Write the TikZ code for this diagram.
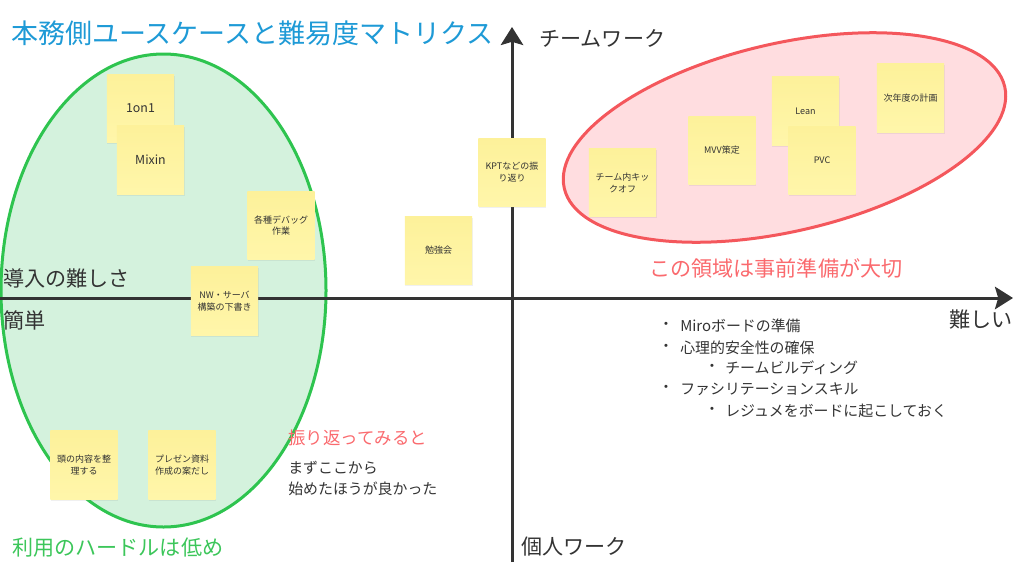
\documentclass[tikz,border=0pt]{standalone}
\usepackage{fontspec}
\setmainfont{Noto Sans CJK JP}
\usetikzlibrary{arrows.meta,shadows}
\definecolor{titleblue}{HTML}{1E9AD6}
\definecolor{axisgray}{HTML}{333333}
\definecolor{greenline}{HTML}{2EC44F}
\definecolor{greenfill}{HTML}{D4F2DD}
\definecolor{greentext}{HTML}{3CC65A}
\definecolor{redline}{HTML}{F4575C}
\definecolor{redfill}{HTML}{FFDDE0}
\definecolor{redtext}{HTML}{FA6A6E}
\definecolor{stickytop}{HTML}{FDF19A}
\definecolor{stickybot}{HTML}{FFF6AA}
\newcommand{\sw}{1.68cm}
\newcommand{\sh}{1.72cm}
\newcommand{\sticky}[4]{\node[sticky] (#1) at (#2,#3) {#4};}
\newcommand{\bigsticky}[4]{\node[sticky,font=\fontsize{8.8}{10}\selectfont] (#1) at (#2,#3) {#4};}
\newcommand{\listitem}[5]{\node[listtext,anchor=center] (#1dot) at (#2,#4) {・}; \node[listtext] (#1) at (#3,#4) {#5};}
\tikzset{
  sticky/.style={rectangle, minimum width=\sw, minimum height=\sh, inner sep=0pt, align=center,
    top color=stickytop, bottom color=stickybot, draw=none, text=axisgray,
    font=\fontsize{6.4}{8.5}\selectfont,
    drop shadow={opacity=0.12, shadow xshift=0.4pt, shadow yshift=-1pt}},
  axis/.style={axisgray, line width=0.075cm, -{Stealth[length=0.45cm,width=0.56cm,inset=0.08cm]}},
  label/.style={anchor=west, inner sep=0pt, text=axisgray, font=\fontsize{15}{18}\selectfont},
  listtext/.style={anchor=west, inner sep=0pt, text=axisgray, font=\fontsize{10.6}{13}\selectfont}
}
\begin{document}
\begin{tikzpicture}[x=0.025cm,y=-0.025cm]
\useasboundingbox (0,0) rectangle (1024,580);
\filldraw[fill=greenfill, draw=greenline, line width=0.075cm] (163.5,290.5) ellipse [x radius=162.5, y radius=236.5];
\filldraw[fill=redfill, draw=redline, line width=0.075cm, rotate around={13:(784.5,137.5)}] (784.5,137.5) ellipse [x radius=226, y radius=94];
\coordinate (xstart) at (0,298);
\coordinate (xend) at (1013,298);
\coordinate (ystart) at (512,562);
\coordinate (yend) at (512,27);
\draw[axis] (xstart) -- (xend);
\draw[axis] (ystart) -- (yend);
\bigsticky{oneonone}{140.5}{108.5}{1on1}
\bigsticky{mixin}{150.5}{160}{Mixin}
\sticky{debug}{281}{225.5}{各種デバッグ\\作業}
\sticky{nwserver}{224.5}{301}{NW・サーバ\\構築の下書き}
\sticky{atama}{84}{465}{頭の内容を整\\理する}
\sticky{present}{182}{465}{プレゼン資料\\作成の案だし}
\sticky{benkyo}{438.5}{250.5}{勉強会}
\sticky{kpt}{512}{172.5}{KPTなどの振\\り返り}
\sticky{kickoff}{622.5}{182.5}{チーム内キッ\\クオフ}
\sticky{mvv}{722}{150.5}{MVV策定}
\sticky{lean}{805.5}{111}{Lean}
\sticky{pvc}{822}{160.5}{PVC}
\sticky{jinendo}{910.5}{98}{次年度の計画}
\node[label, text=titleblue, font=\fontsize{19.2}{22}\selectfont] (title) at (11,33) {本務側ユースケースと難易度マトリクス};
\node[label] (team) at (539,38) {チームワーク};
\node[label] (kojin) at (521,547) {個人ワーク};
\node[label, anchor=east] (muzukashii) at (1013,320) {難しい};
\node[label] (dounyu) at (3,278) {導入の難しさ};
\node[label] (kantan) at (3,320) {簡単};
\node[label, text=redtext] (ryoiki) at (649,268) {この領域は事前準備が大切};
\node[label, text=greentext] (hurdle) at (12,548) {利用のハードルは低め};
\node[label, text=redtext, font=\fontsize{12.4}{15}\selectfont] (furikaeri) at (288,438) {振り返ってみると};
\node[listtext, align=left, font=\fontsize{10.6}{14.9}\selectfont] (mazu) at (288,478.5) {まずここから\\始めたほうが良かった};
\listitem{miro}{666}{680}{326}{Miroボードの準備}
\listitem{shinri}{666}{680}{348}{心理的安全性の確保}
\listitem{building}{712}{725}{368}{チームビルディング}
\listitem{facili}{666}{680}{389}{ファシリテーションスキル}
\listitem{resume}{712}{725}{411}{レジュメをボードに起こしておく}
\end{tikzpicture}
\end{document}
